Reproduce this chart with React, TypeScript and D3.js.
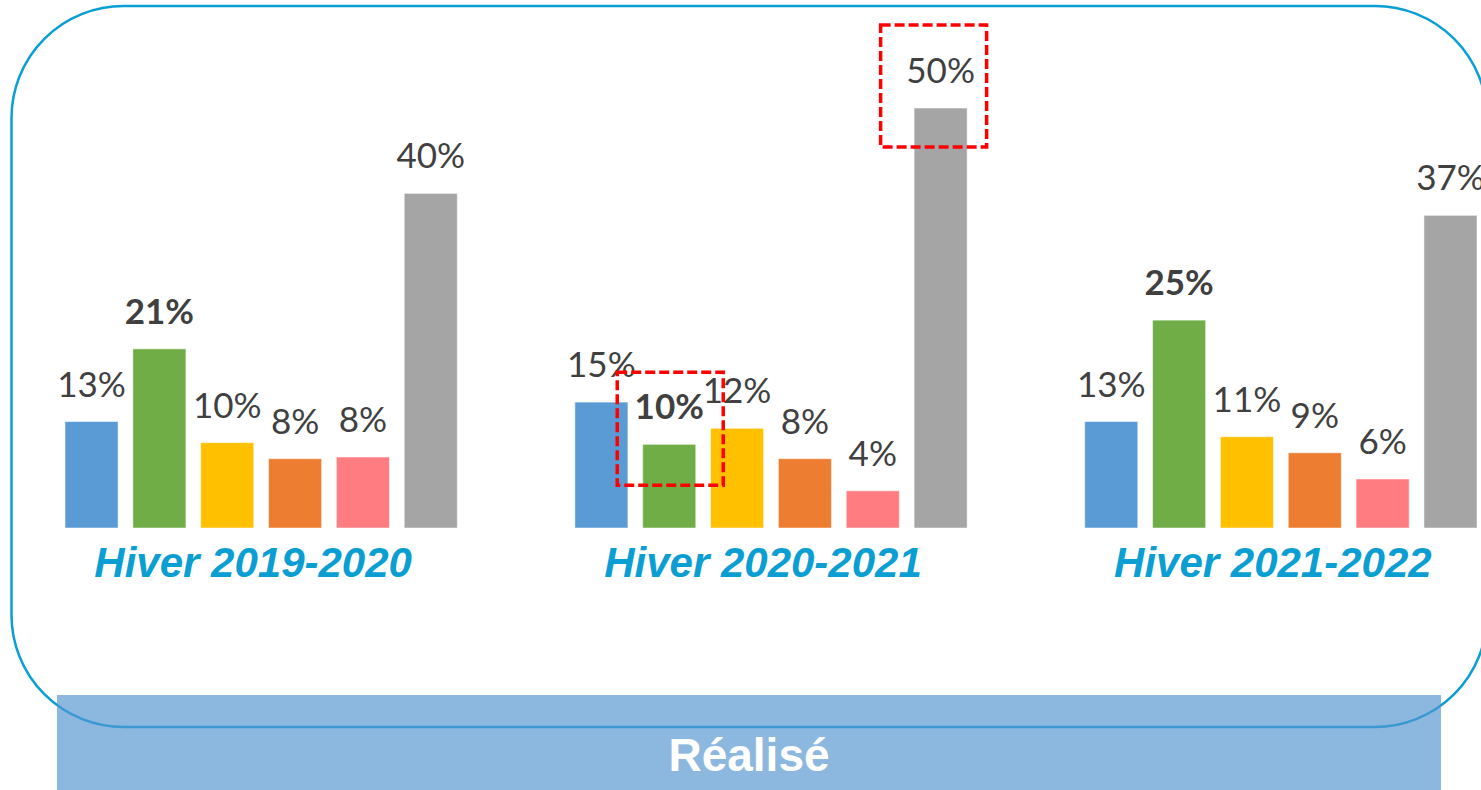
import React, { useEffect } from "react";
import * as d3 from "d3";

const groups = ["Hiver 2019-2020", "Hiver 2020-2021", "Hiver 2021-2022"];
const series = ["Série 1", "Série 2", "Série 3", "Série 4", "Série 5", "Série 6"];
const colors = ["#5b9bd5", "#70ad47", "#ffc000", "#ed7d31", "#ff7c80", "#a5a5a5"];
const values2019 = [12.6, 21.2, 10.1, 8.2, 8.4, 39.6];
const values2020 = [14.9, 9.9, 11.8, 8.2, 4.4, 49.7];
const values2021 = [12.6, 24.6, 10.8, 8.9, 5.8, 37.0];
const valuesByGroup = [values2019, values2020, values2021];
const boldSeries = "Série 2";
const footerLabel = "Réalisé";
// highlighted (group index, series index) pairs
const highlights = [
  { group: 1, series: 1, kind: "barTop" },
  { group: 1, series: 5, kind: "label" },
];

const W = 1481;
const H = 790;

export default function App() {
  useEffect(() => {
    document.body.style.margin = "0";
  }, []);

  const xGroup = d3.scaleBand<string>().domain(groups).range([65, 1477]).paddingInner(0.2306).paddingOuter(0);
  const xInner = d3.scaleBand<string>().domain(series).range([0, xGroup.bandwidth()]).paddingInner(0.218).paddingOuter(0);
  const y = d3.scaleLinear().domain([0, 50]).range([528, 528 - 50 * 8.45]);
  const bw = xInner.bandwidth();

  const labelFont = "Lato, 'Noto Sans', sans-serif";

  return (
    <svg width={W} height={H} style={{ display: "block" }}>
      <rect x={0} y={0} width={W} height={H} fill="#ffffff" />
      {/* rounded frame */}
      <rect x={11.5} y={6} width={1487 - 11.5} height={727 - 6} rx={112} ry={112} fill="none" stroke="#0a9fd4" strokeWidth={2.5} />
      {groups.map((g, gi) => {
        const gx = xGroup(g)!;
        const vals = valuesByGroup[gi];
        return (
          <g key={g}>
            {series.map((s, si) => {
              const v = vals[si];
              const bx = gx + xInner(s)!;
              return (
                <g key={s}>
                  <rect x={bx} y={y(v)} width={bw} height={y(0) - y(v)} fill={colors[si]} stroke="#ffffff" strokeOpacity={0.5} strokeWidth={1} />
                  <text
                    x={bx + bw / 2}
                    y={y(v) - 25}
                    textAnchor="middle"
                    fontFamily={labelFont}
                    fontSize={35}
                    fontWeight={s === boldSeries ? 700 : 400}
                    fill="#404040"
                  >
                    {Math.round(v) + "%"}
                  </text>
                </g>
              );
            })}
            <text
              x={gx + xGroup.bandwidth() / 2 - 8}
              y={577}
              textAnchor="middle"
              fontFamily="'Liberation Sans', Arial, sans-serif"
              fontSize={42}
              fontWeight={700}
              fontStyle="italic"
              fill="#0a9ed2"
            >
              {g}
            </text>
          </g>
        );
      })}
      {highlights.map((h, i) => {
        const g = groups[h.group];
        const s = series[h.series];
        const v = valuesByGroup[h.group][h.series];
        const cx = xGroup(g)! + xInner(s)! + bw / 2;
        const top = h.kind === "barTop" ? y(v) - 72 : y(v) - 83;
        const bottom = y(v) + (h.kind === "barTop" ? 41 : 39);
        const w = 106;
        const off = h.kind === "barTop" ? 1 : -7;
        return (
          <rect
            key={i}
            x={cx + off - w / 2}
            y={top}
            width={w}
            height={bottom - top}
            fill="none"
            stroke="#ff0000"
            strokeWidth={3.5}
            strokeDasharray="10 4"
          />
        );
      })}
      {/* footer band */}
      <rect x={57} y={695} width={1441 - 57} height={H - 695} fill="#5495d1" fillOpacity={0.67} />
      <text
        x={(57 + 1441) / 2}
        y={771}
        textAnchor="middle"
        fontFamily="'Liberation Sans', Arial, sans-serif"
        fontSize={46}
        fontWeight={700}
        fill="#ffffff"
      >
        {footerLabel}
      </text>
    </svg>
  );
}
